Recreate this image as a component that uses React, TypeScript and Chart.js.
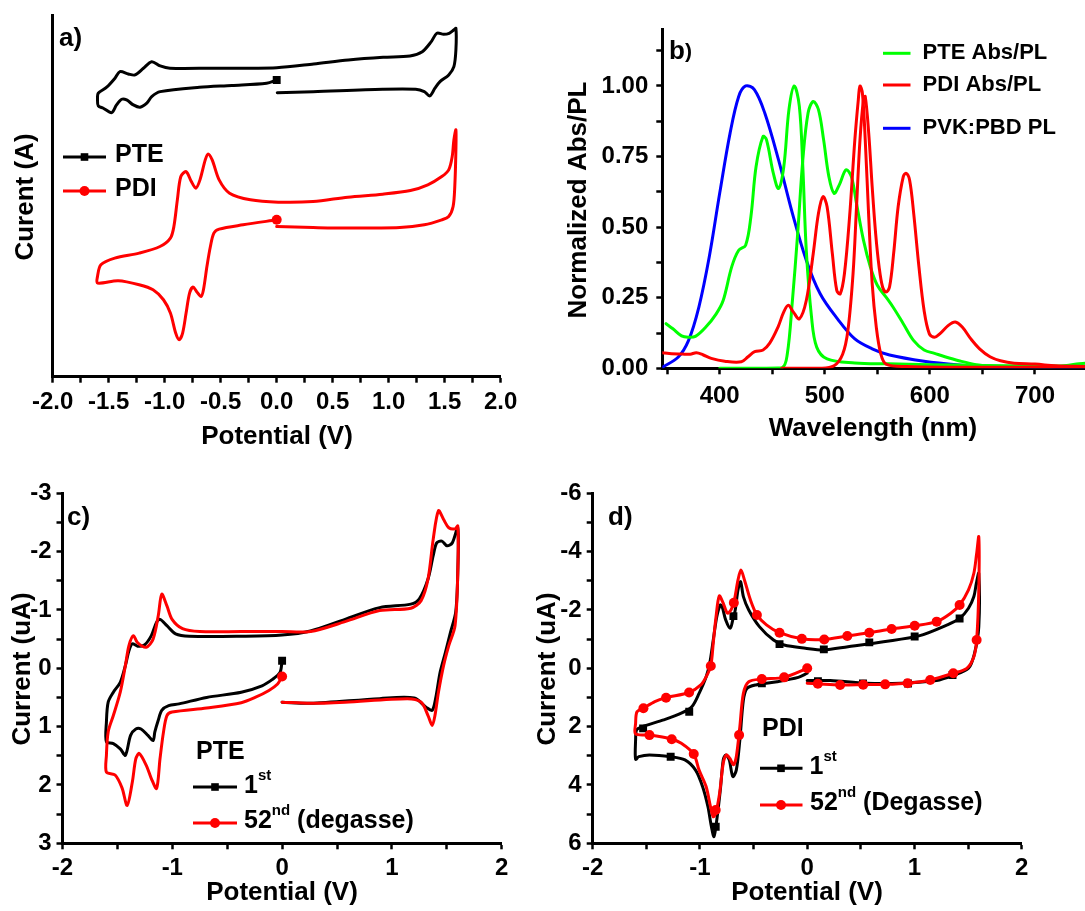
import React, { useEffect, useRef } from 'react';
import { Chart, registerables } from 'chart.js';
Chart.register(...registerables);

const FONT = '"Liberation Sans", Arial, Helvetica, sans-serif';
const BLACK = '#000000';
const RED = '#ff0000';
const GREEN = '#00ff00';
const BLUE = '#0000ff';

// ---------- Panel a (CV, arbitrary current units) ----------
const aPteX = [0, -0.09, -0.4, -0.69, -1.04, -1.116, -1.16, -1.22, -1.28, -1.34, -1.384, -1.43, -1.473, -1.548, -1.593, -1.6, -1.593, -1.518, -1.444, -1.4, -1.325, -1.265, -1.19, -1.116, -1.04, -0.953, -0.6, 0, 0.33, 0.64, 0.95, 1.19, 1.3, 1.38, 1.43, 1.49, 1.54, 1.58, 1.6, 1.6, 1.582, 1.536, 1.458, 1.413, 1.366, 1.318, 1.241, 0.946, 0.325, 0.005];
const aPteY = [29.7, 29.37, 29.15, 28.97, 28.53, 28.03, 27.37, 26.97, 27.2, 27.7, 27.77, 27.2, 26.43, 26.87, 27.1, 27.7, 28.37, 28.97, 29.87, 30.53, 30.3, 30.2, 30.87, 31.53, 31.1, 30.87, 30.87, 30.93, 31.3, 31.7, 31.97, 32.1, 32.53, 33.53, 34.37, 34.27, 34.37, 34.7, 34.87, 32.7, 31.03, 30.2, 29.53, 28.87, 28.1, 28.53, 28.77, 28.77, 28.53, 28.43];
const aPdiX = [0, -0.3, -0.514, -0.561, -0.592, -0.623, -0.654, -0.675, -0.716, -0.747, -0.778, -0.809, -0.84, -0.871, -0.902, -0.949, -1.011, -1.104, -1.228, -1.415, -1.6, -1.6, -1.57, -1.446, -1.228, -1.042, -0.949, -0.918, -0.887, -0.856, -0.809, -0.762, -0.722, -0.685, -0.638, -0.613, -0.576, -0.514, -0.421, -0.235, 0.014, 0.325, 0.635, 0.946, 1.194, 1.349, 1.474, 1.536, 1.567, 1.582, 1.6, 1.6, 1.59, 1.575, 1.536, 1.474, 1.318, 1.1, 0.635, 0.325, 0];
const aPdiY = [15.7, 15.2, 14.77, 14.37, 13.03, 11.03, 8.7, 8.03, 8.53, 8.97, 8.37, 6.37, 4.37, 3.7, 4.37, 6.37, 7.7, 8.7, 9.2, 9.6, 9.37, 10.03, 11.2, 11.87, 12.37, 13.03, 13.87, 15.03, 17.7, 20.03, 20.53, 19.53, 18.87, 19.7, 21.7, 22.3, 21.7, 19.7, 18.37, 17.7, 17.47, 17.53, 17.97, 18.27, 18.63, 19.2, 20.03, 20.7, 22.03, 23.7, 24.7, 22.7, 19.03, 17.03, 16.03, 15.7, 15.2, 14.93, 14.87, 14.93, 15.03];
const aXTicks = [-2, -1.75, -1.5, -1.25, -1, -0.75, -0.5, -0.25, 0, 0.25, 0.5, 0.75, 1, 1.25, 1.5, 1.75, 2];
const aXLabels = ['-2.0', '', '-1.5', '', '-1.0', '', '-0.5', '', '0.0', '', '0.5', '', '1.0', '', '1.5', '', '2.0'];

// ---------- Panel b (spectra) ----------
const bGreenAbsX = [349, 355.5, 363.7, 370, 376.9, 386.8, 396.7, 403.3, 411.5, 418.1, 424.7, 429.7, 434.6, 441.2, 444.5, 451.1, 456, 461, 465.9, 470.9, 475.8, 479.1, 482.4, 487.4, 492.3, 502.2, 528.6, 560, 600, 650, 700, 730, 747];
const bGreenAbsY = [0.158, 0.14, 0.115, 0.11, 0.113, 0.146, 0.193, 0.24, 0.36, 0.418, 0.436, 0.537, 0.714, 0.821, 0.81, 0.69, 0.637, 0.714, 0.916, 1.0, 0.928, 0.714, 0.418, 0.181, 0.075, 0.033, 0.019, 0.016, 0.013, 0.01, 0.008, 0.008, 0.008];
const bGreenPlX = [400, 430, 459.3, 464.3, 469.2, 474.2, 479.1, 484.1, 489, 494, 498.9, 503.9, 508.8, 513.7, 520.3, 525.3, 530.2, 536.8, 543.4, 550, 558.3, 564.9, 574.7, 584.6, 594.5, 604.4, 614.3, 627.5, 644, 660.5, 693.4, 719.8, 739.6, 748];
const bGreenPlY = [0, 0, 0.002, 0.05, 0.24, 0.477, 0.738, 0.904, 0.945, 0.916, 0.809, 0.679, 0.62, 0.649, 0.703, 0.679, 0.584, 0.454, 0.359, 0.294, 0.252, 0.217, 0.158, 0.098, 0.065, 0.053, 0.041, 0.027, 0.013, 0.007, 0.006, 0.006, 0.015, 0.018];
const bRedAbsX = [345.6, 352, 366.7, 372, 377.8, 384, 392, 404.8, 420.6, 427, 433.3, 441.3, 447.6, 455.6, 461, 465.3, 470, 475.8, 482.4, 489, 494, 498.3, 502.2, 507.2, 511.4, 514.7, 518.7, 523.6, 528.6, 531.9, 533.5, 535.8, 538.5, 541.8, 545.1, 549, 553.3, 558.3, 578, 627.5, 700, 748];
const bRedAbsY = [0.055, 0.052, 0.05, 0.05, 0.055, 0.048, 0.035, 0.025, 0.023, 0.041, 0.059, 0.065, 0.089, 0.147, 0.2, 0.223, 0.2, 0.175, 0.24, 0.406, 0.549, 0.608, 0.572, 0.406, 0.276, 0.264, 0.335, 0.537, 0.809, 0.951, 1.0, 0.975, 0.809, 0.537, 0.3, 0.146, 0.051, 0.015, 0.006, 0.004, 0.004, 0.004];
const bRedPlX = [459, 495.6, 508.8, 517, 522, 526.9, 530.2, 533.5, 536.8, 538.5, 541.8, 545.1, 548.4, 551.7, 555, 558.3, 561.6, 565.5, 569.8, 574.7, 577.4, 580.7, 584.6, 589.6, 594.5, 599.5, 604.4, 609.4, 617.6, 624.2, 630.8, 639, 647.3, 657.2, 667.1, 680.2, 700, 719.8, 748];
const bRedPlY = [0, 0, 0.009, 0.05, 0.134, 0.335, 0.572, 0.809, 0.951, 0.963, 0.833, 0.643, 0.477, 0.359, 0.288, 0.27, 0.288, 0.406, 0.572, 0.679, 0.691, 0.667, 0.549, 0.359, 0.205, 0.122, 0.11, 0.122, 0.152, 0.164, 0.146, 0.104, 0.069, 0.041, 0.027, 0.018, 0.015, 0.009, 0.006];
const bBlueX = [345.6, 360.4, 370.3, 380.2, 390.1, 400, 409.9, 418.1, 424.7, 433, 442.9, 456, 469.2, 482.4, 495.6, 512.1, 528.6, 545.1, 561.6, 594.5, 627.5, 660.5, 700, 748];
const bBlueY = [0.004, 0.039, 0.098, 0.217, 0.395, 0.62, 0.833, 0.963, 1.0, 0.987, 0.904, 0.738, 0.549, 0.383, 0.264, 0.175, 0.104, 0.069, 0.047, 0.025, 0.012, 0.004, 0.002, 0];
const bXTicks = [350, 400, 450, 500, 550, 600, 650, 700];
const bXLabels = ['', '400', '', '500', '', '600', '', '700'];
const bYTicks = [0, 0.125, 0.25, 0.375, 0.5, 0.625, 0.75, 0.875, 1.0, 1.125];
const bYLabels = ['0.00', '', '0.25', '', '0.50', '', '0.75', '', '1.00', ''];

// ---------- Panel c (PTE CV, uA) ----------
const cPteX = [0, -0.019, -0.088, -0.183, -0.372, -0.687, -0.939, -1.033, -1.096, -1.128, -1.159, -1.175, -1.222, -1.285, -1.332, -1.38, -1.427, -1.474, -1.537, -1.6, -1.6, -1.584, -1.537, -1.474, -1.427, -1.395, -1.364, -1.317, -1.254, -1.191, -1.143, -1.112, -1.049, -0.97, -0.844, -0.372, 0, 0.258, 0.573, 0.888, 1.172, 1.25, 1.329, 1.376, 1.408, 1.455, 1.502, 1.55, 1.6, 1.6, 1.581, 1.534, 1.487, 1.439, 1.398, 1.367, 1.313, 1.203, 0.888, 0.258, 0];
const cPteY = [-0.13, 0.07, 0.19, 0.3, 0.41, 0.5, 0.61, 0.64, 0.72, 0.89, 1.09, 1.24, 1.15, 1.04, 1.04, 1.15, 1.49, 1.38, 1.29, 1.26, 0.92, 0.58, 0.41, 0.24, -0.05, -0.3, -0.42, -0.38, -0.4, -0.56, -0.79, -0.84, -0.73, -0.59, -0.55, -0.55, -0.57, -0.64, -0.84, -1.04, -1.1, -1.19, -1.53, -1.93, -2.15, -2.18, -2.1, -2.15, -2.41, -1.64, -0.96, -0.62, -0.27, 0.07, 0.52, 0.72, 0.67, 0.51, 0.52, 0.6, 0.58];
const cPdiX = [0, -0.041, -0.12, -0.246, -0.372, -0.687, -1.002, -1.049, -1.08, -1.112, -1.143, -1.191, -1.238, -1.301, -1.332, -1.364, -1.411, -1.458, -1.521, -1.6, -1.6, -1.584, -1.537, -1.474, -1.427, -1.395, -1.354, -1.317, -1.238, -1.175, -1.128, -1.096, -1.049, -1.002, -0.907, -0.75, -0.372, 0, 0.258, 0.573, 0.888, 1.172, 1.266, 1.329, 1.376, 1.424, 1.471, 1.518, 1.575, 1.6, 1.6, 1.575, 1.518, 1.471, 1.424, 1.392, 1.367, 1.329, 1.266, 1.14, 0.573, 0.258, 0];
const cPdiY = [0.14, 0.27, 0.38, 0.5, 0.59, 0.68, 0.75, 0.81, 1.09, 1.55, 2.06, 1.89, 1.66, 1.46, 1.55, 1.95, 2.35, 2.05, 1.83, 1.78, 1.49, 1.09, 0.81, 0.41, -0.05, -0.39, -0.56, -0.44, -0.36, -0.5, -0.9, -1.27, -1.07, -0.84, -0.68, -0.63, -0.63, -0.63, -0.63, -0.8, -0.99, -1.03, -1.16, -1.53, -2.21, -2.7, -2.55, -2.41, -2.39, -2.44, -1.64, -0.73, -0.39, -0.05, 0.41, 0.81, 0.98, 0.81, 0.58, 0.52, 0.58, 0.6, 0.58];
const cdXTicks = [-2, -1.5, -1, -0.5, 0, 0.5, 1, 1.5, 2];
const cdXLabels = ['-2', '', '-1', '', '0', '', '1', '', '2'];
const cYTicks = [-3, -2.5, -2, -1.5, -1, -0.5, 0, 0.5, 1, 1.5, 2, 2.5, 3];
const cYLabels = ['-3', '', '-2', '', '-1', '', '0', '', '1', '', '2', '', '3'];

// ---------- Panel d (PDI CV, uA) ----------
const dFirstX = [0, -0.083, -0.281, -0.479, -0.562, -0.595, -0.628, -0.661, -0.694, -0.727, -0.76, -0.783, -0.81, -0.843, -0.869, -0.893, -0.926, -0.975, -1.041, -1.14, -1.273, -1.471, -1.57, -1.6, -1.6, -1.59, -1.537, -1.339, -1.174, -1.074, -1.008, -0.942, -0.909, -0.876, -0.843, -0.81, -0.793, -0.76, -0.717, -0.694, -0.671, -0.645, -0.621, -0.595, -0.545, -0.446, -0.314, -0.215, -0.017, 0.155, 0.38, 0.711, 1.041, 1.306, 1.421, 1.504, 1.554, 1.577, 1.6, 1.6, 1.56, 1.504, 1.355, 1.207, 0.876, 0.545, 0.215, 0];
const dFirstY = [0.17, 0.31, 0.46, 0.57, 0.69, 1.09, 2.46, 3.49, 3.71, 3.14, 2.97, 3.14, 4.17, 5.2, 5.77, 5.43, 4.74, 4.06, 3.49, 3.14, 3.03, 2.97, 3.03, 3.12, 2.46, 2.11, 2.0, 1.77, 1.54, 1.31, 0.86, 0.29, -0.17, -0.97, -1.77, -2.17, -2.11, -1.66, -1.37, -1.66, -2.0, -2.69, -2.97, -2.46, -2.0, -1.43, -0.97, -0.8, -0.69, -0.63, -0.74, -0.91, -1.11, -1.49, -1.71, -2.06, -2.46, -2.91, -3.26, -1.43, -0.51, 0.0, 0.25, 0.42, 0.51, 0.51, 0.42, 0.42];
const dLastX = [0, -0.215, -0.423, -0.545, -0.595, -0.628, -0.661, -0.688, -0.721, -0.754, -0.783, -0.817, -0.853, -0.876, -0.902, -0.942, -1.008, -1.058, -1.174, -1.263, -1.471, -1.6, -1.6, -1.587, -1.527, -1.421, -1.316, -1.101, -0.992, -0.942, -0.899, -0.876, -0.85, -0.82, -0.783, -0.744, -0.711, -0.684, -0.645, -0.618, -0.585, -0.529, -0.469, -0.38, -0.258, -0.05, 0.159, 0.374, 0.579, 0.787, 1.002, 1.207, 1.339, 1.421, 1.504, 1.554, 1.58, 1.6, 1.6, 1.58, 1.554, 1.488, 1.362, 1.147, 0.936, 0.727, 0.522, 0.307, 0.099, 0];
const dLastY = [0, 0.31, 0.37, 0.46, 0.86, 2.0, 3.03, 3.31, 3.09, 2.97, 3.26, 4.29, 4.97, 5.09, 4.74, 4.06, 3.49, 2.94, 2.57, 2.43, 2.29, 2.25, 1.89, 1.49, 1.37, 1.14, 1.01, 0.83, 0.57, 0.29, -0.08, -0.86, -1.77, -2.48, -2.23, -1.89, -2.0, -2.25, -3.03, -3.37, -3.03, -2.34, -1.83, -1.49, -1.22, -1.01, -0.99, -1.11, -1.22, -1.35, -1.46, -1.6, -1.89, -2.17, -2.69, -3.26, -3.94, -4.51, -2.69, -0.97, -0.4, 0.0, 0.17, 0.4, 0.51, 0.55, 0.56, 0.57, 0.53, 0.51];
const dFirstMarkX = [-0.423, -1.1, -1.53, -1.273, -0.853, -0.688, -0.258, 0.155, 0.579, 1.002, 1.421, 1.355, 0.94, 0.52, 0.1];
const dFirstMarkY = [0.51, 1.49, 2.06, 3.03, 5.43, -1.79, -0.83, -0.65, -0.89, -1.09, -1.71, 0.23, 0.52, 0.52, 0.44];
const dLastMarkX = [0, -0.215, -0.423, -0.635, -0.853, -1.058, -1.263, -1.471, -1.527, -1.316, -1.101, -0.899, -0.684, -0.469, -0.258, -0.05, 0.159, 0.374, 0.579, 0.787, 1.002, 1.207, 1.421, 1.58, 1.362, 1.147, 0.936, 0.727, 0.522, 0.307, 0.099];
const dLastMarkY = [0, 0.31, 0.37, 2.29, 4.86, 2.94, 2.43, 2.29, 1.37, 1.01, 0.83, -0.08, -2.25, -1.83, -1.22, -1.01, -0.99, -1.11, -1.22, -1.35, -1.46, -1.6, -2.17, -0.97, 0.17, 0.4, 0.51, 0.55, 0.56, 0.57, 0.53];
const dYTicks = [-6, -5, -4, -3, -2, -1, 0, 1, 2, 3, 4, 5, 6];
const dYLabels = ['-6', '', '-4', '', '-2', '', '0', '', '2', '', '4', '', '6'];

// ---------- helpers ----------
const pts = (xs: number[], ys: number[]) => xs.map((x, i) => ({ x, y: ys[i] }));
const firstOnly = (r: number) => (c: any) => (c.dataIndex === 0 ? r : 0);

const annot = {
  id: 'annot',
  afterDraw(chart: any, _a: any, opts: any) {
    const ctx = chart.ctx as CanvasRenderingContext2D;
    ctx.save();
    ctx.translate(-(opts.ox || 0), -(opts.oy || 0));
    for (const it of opts.items || []) {
      if (it.kind === 'sym') {
        ctx.strokeStyle = it.color;
        ctx.lineWidth = 3;
        ctx.beginPath();
        ctx.moveTo(it.x1, it.y);
        ctx.lineTo(it.x2, it.y);
        ctx.stroke();
        ctx.fillStyle = it.color;
        if (it.marker === 'square') ctx.fillRect(it.mx - 3.8, it.y - 3.8, 7.6, 7.6);
        if (it.marker === 'circle') {
          ctx.beginPath();
          ctx.arc(it.mx, it.y, 5, 0, Math.PI * 2);
          ctx.fill();
        }
      } else if (it.kind === 'vtext') {
        ctx.save();
        ctx.translate(it.x, it.y);
        ctx.rotate(-Math.PI / 2);
        ctx.fillStyle = '#000';
        ctx.font = `bold ${it.size}px ${FONT}`;
        ctx.textAlign = 'center';
        ctx.textBaseline = 'middle';
        ctx.fillText(it.text, 0, 0);
        ctx.restore();
      } else if (it.kind === 'text') {
        ctx.fillStyle = '#000';
        ctx.textBaseline = 'middle';
        ctx.textAlign = 'left';
        let total = 0;
        for (const r of it.runs) {
          ctx.font = `bold ${r.size}px ${FONT}`;
          total += ctx.measureText(r.t).width;
        }
        let x = it.align === 'center' ? it.x - total / 2 : it.x;
        for (const r of it.runs) {
          ctx.font = `bold ${r.size}px ${FONT}`;
          ctx.fillText(r.t, x, it.y + (r.dy || 0));
          x += ctx.measureText(r.t).width;
        }
      }
    }
    ctx.restore();
  },
};

function axis(o: any) {
  const hasTicks = o.values !== undefined;
  return {
    type: 'linear',
    position: o.pos,
    min: o.min,
    max: o.max,
    reverse: !!o.reverse,
    border: { display: true, color: '#000', width: 3 },
    grid: {
      display: true,
      drawOnChartArea: false,
      drawTicks: hasTicks,
      tickLength: 6,
      tickWidth: 2.5,
      tickColor: '#000',
      color: '#000',
    },
    ticks: {
      display: hasTicks,
      autoSkip: false,
      maxRotation: 0,
      minRotation: 0,
      padding: o.pad ?? 5,
      color: '#000',
      font: { family: FONT, size: 24, weight: 'bold' },
      callback: (_v: any, i: number) => (o.labels ? o.labels[i] ?? '' : ''),
    },
    afterBuildTicks: (s: any) => {
      if (hasTicks) s.ticks = o.values.map((v: number) => ({ value: v }));
    },
    afterFit: (s: any) => {
      if (o.pos === 'bottom') s.height = o.fit;
      else s.width = o.fit;
    },
  };
}

function makeConfig(p: any) {
  return {
    type: 'line',
    data: { datasets: p.datasets },
    options: {
      animation: false,
      responsive: false,
      devicePixelRatio: 1,
      layout: { padding: { left: 0, top: p.area.t, right: p.w - p.area.r, bottom: 0 } },
      plugins: {
        legend: { display: false },
        tooltip: { enabled: false },
        annot: { ox: p.ox, oy: p.oy, items: p.items },
      },
      elements: {
        line: { borderWidth: 3, tension: p.tension ?? 0.3, fill: false, borderJoinStyle: 'round', borderCapStyle: 'round' },
        point: { radius: 0, borderWidth: 0 },
      },
      scales: {
        x: axis({ ...p.x, pos: 'bottom', fit: p.h - p.area.b }),
        y: axis({ ...p.y, pos: 'left', fit: p.area.l }),
      },
    },
    plugins: [annot],
  };
}

const lineDs = (xs: number[], ys: number[], color: string, order: number, extra: any = {}) => ({
  data: pts(xs, ys),
  borderColor: color,
  backgroundColor: color,
  pointRadius: 0,
  order,
  ...extra,
});

const markDs = (xs: number[], ys: number[], color: string, style: string, r: number, order: number) => ({
  data: pts(xs, ys),
  showLine: false,
  borderColor: color,
  backgroundColor: color,
  pointStyle: style,
  pointRadius: r,
  pointBorderWidth: 0,
  order,
});

const T = (x: number, y: number, text: string, size = 26, align = 'left') => ({ kind: 'text', x, y, align, runs: [{ t: text, size }] });

const panels = [
  {
    ox: 0, oy: 0, w: 545, h: 465,
    area: { l: 52.7, r: 500.7, t: 15, b: 376.7 },
    x: { min: -2, max: 2, values: aXTicks, labels: aXLabels, pad: 5 },
    y: { min: 0, max: 36.2 },
    datasets: [
      lineDs(aPdiX, aPdiY, RED, 0, { pointStyle: 'circle', pointRadius: firstOnly(5), pointBorderWidth: 0 }),
      lineDs(aPteX, aPteY, BLACK, 1, { pointStyle: 'rect', pointRadius: firstOnly(5.6), pointBorderWidth: 0 }),
    ],
    items: [
      T(277, 437, 'Potential (V)', 26, 'center'),
      { kind: 'vtext', x: 26, y: 197, text: 'Curent (A)', size: 26 },
      T(59, 39, 'a)', 26),
      { kind: 'sym', x1: 63, x2: 106, y: 157, color: BLACK, marker: 'square', mx: 84.5 },
      T(115, 155, 'PTE', 25),
      { kind: 'sym', x1: 63, x2: 106, y: 191, color: RED, marker: 'circle', mx: 84.5 },
      T(115, 189, 'PDI', 25),
    ],
  },
  {
    ox: 545, oy: 0, w: 540, h: 460,
    area: { l: 117.3, r: 540, t: 29.5, b: 368.3 },
    tension: 0.35,
    x: { min: 345.4, max: 747.6, values: bXTicks, labels: bXLabels, pad: 8 },
    y: { min: 0, max: 1.2, values: bYTicks, labels: bYLabels, pad: 8 },
    datasets: [
      lineDs(bRedAbsX, bRedAbsY, RED, 0),
      lineDs(bRedPlX, bRedPlY, RED, 1),
      lineDs(bGreenPlX, bGreenPlY, GREEN, 2),
      lineDs(bGreenAbsX, bGreenAbsY, GREEN, 3),
      lineDs(bBlueX, bBlueY, BLUE, 4),
    ],
    items: [
      T(873, 429, 'Wavelength (nm)', 26, 'center'),
      { kind: 'vtext', x: 579, y: 200, text: 'Normalized Abs/PL', size: 26 },
      { kind: 'text', x: 669, y: 52, runs: [{ t: 'b', size: 26 }, { t: ')', size: 21 }] },
      { kind: 'sym', x1: 883, x2: 910.5, y: 53.3, color: GREEN },
      T(922.6, 53, 'PTE Abs/PL', 22),
      { kind: 'sym', x1: 883, x2: 910.5, y: 85, color: RED },
      T(922.6, 85, 'PDI Abs/PL', 22),
      { kind: 'sym', x1: 883, x2: 910.5, y: 128.3, color: BLUE },
      T(922.6, 128, 'PVK:PBD PL', 22),
    ],
  },
  {
    ox: 0, oy: 440, w: 530, h: 471,
    area: { l: 62.5, r: 501.7, t: 53.3, b: 403.3 },
    x: { min: -2, max: 2, values: cdXTicks, labels: cdXLabels, pad: 5 },
    y: { min: -3, max: 3, reverse: true, values: cYTicks, labels: cYLabels, pad: 5 },
    datasets: [
      lineDs(cPdiX, cPdiY, RED, 0, { pointStyle: 'circle', pointRadius: firstOnly(5), pointBorderWidth: 0 }),
      lineDs(cPteX, cPteY, BLACK, 1, { pointStyle: 'rect', pointRadius: firstOnly(5.6), pointBorderWidth: 0 }),
    ],
    items: [
      T(282, 893, 'Potential (V)', 26, 'center'),
      { kind: 'vtext', x: 23, y: 669, text: 'Current (uA)', size: 26 },
      T(67, 518, 'c)', 26),
      T(196, 752, 'PTE', 25),
      { kind: 'sym', x1: 193, x2: 237, y: 787, color: BLACK, marker: 'square', mx: 215 },
      { kind: 'text', x: 244, y: 786, runs: [{ t: '1', size: 25 }, { t: 'st', size: 15, dy: -10 }] },
      { kind: 'sym', x1: 193, x2: 237, y: 823, color: RED, marker: 'circle', mx: 215 },
      { kind: 'text', x: 244, y: 821, runs: [{ t: '52', size: 25 }, { t: 'nd', size: 15, dy: -10 }, { t: ' (degasse)', size: 25 }] },
    ],
  },
  {
    ox: 530, oy: 440, w: 555, h: 471,
    area: { l: 62.7, r: 491.7, t: 53.3, b: 403.3 },
    x: { min: -2, max: 2, values: cdXTicks, labels: cdXLabels, pad: 5 },
    y: { min: -6, max: 6, reverse: true, values: dYTicks, labels: dYLabels, pad: 5 },
    datasets: [
      markDs(dLastMarkX, dLastMarkY, RED, 'circle', 5, 0),
      lineDs(dLastX, dLastY, RED, 1),
      markDs(dFirstMarkX, dFirstMarkY, BLACK, 'rect', 5.6, 2),
      lineDs(dFirstX, dFirstY, BLACK, 3),
    ],
    items: [
      T(807, 893, 'Potential (V)', 26, 'center'),
      { kind: 'vtext', x: 547.5, y: 669, text: 'Current (uA)', size: 26 },
      T(608, 518, 'd)', 26),
      T(762, 729, 'PDI', 25),
      { kind: 'sym', x1: 760, x2: 802.5, y: 768.3, color: BLACK, marker: 'square', mx: 781 },
      { kind: 'text', x: 809.6, y: 767, runs: [{ t: '1', size: 25 }, { t: 'st', size: 15, dy: -10 }] },
      { kind: 'sym', x1: 760, x2: 802.5, y: 805, color: RED, marker: 'circle', mx: 781 },
      { kind: 'text', x: 810, y: 803, runs: [{ t: '52', size: 25 }, { t: 'nd', size: 15, dy: -10 }, { t: ' (Degasse)', size: 25 }] },
    ],
  },
];

function Panel({ p }: { p: any }) {
  const ref = useRef<HTMLCanvasElement>(null);
  useEffect(() => {
    const chart = new Chart(ref.current as HTMLCanvasElement, makeConfig(p) as any);
    return () => chart.destroy();
  }, []);
  return (
    <canvas
      ref={ref}
      width={p.w}
      height={p.h}
      style={{ position: 'absolute', left: p.ox, top: p.oy, width: p.w, height: p.h, display: 'block' }}
    />
  );
}

export default function App() {
  return (
    <div style={{ position: 'absolute', left: 0, top: 0, width: 1085, height: 911, background: '#fff', overflow: 'hidden' }}>
      {panels.map((p, i) => (
        <Panel key={i} p={p} />
      ))}
    </div>
  );
}
